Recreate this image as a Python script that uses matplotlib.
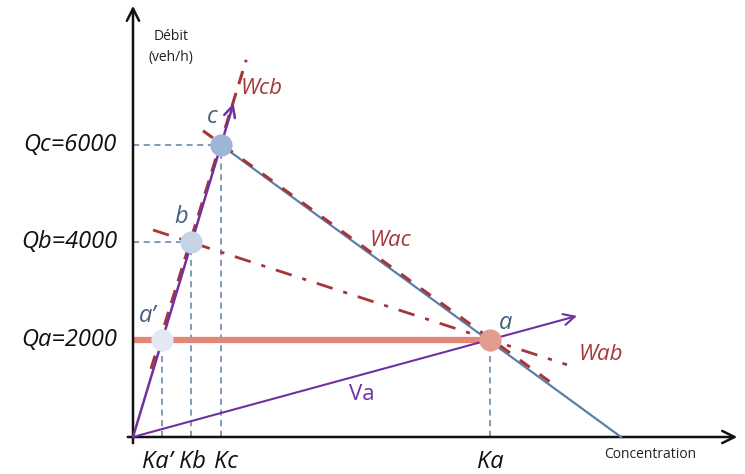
import matplotlib
matplotlib.use("Agg")
import matplotlib.pyplot as plt
import numpy as np

# Fundamental diagram (triangular): flow vs concentration
k_points = {"a'": 29, "b": 58, "c": 88, "a": 357}   # concentration
q_points = {"a'": 2000, "b": 4000, "c": 6000, "a": 2000}  # flow (veh/h)
k_jam = 488
q_ticks = [2000, 4000, 6000]
q_tick_labels = ["Qa=2000", "Qb=4000", "Qc=6000"]
k_tick_names = ["a'", "b", "c", "a"]
k_tick_labels = ["Ka\u2019", "Kb", "Kc", "Ka"]

PURPLE = "#7030A0"
DARKRED = "#A5373A"
BLUE = "#5A80A8"
ORANGE = "#E38676"
LABEL = "#44607F"
FONT = "Open Sans"

fig = plt.figure(figsize=(7.45, 4.74), dpi=100)
ax = fig.add_axes([0, 0, 1, 1])
ax.set_xlim(-133, 612)
ax.set_ylim(-37 * 6000 / 292, 437 * 6000 / 292)
ax.axis("off")
ys = 6000 / 292  # flow units per pixel

# axes with arrows
ax.annotate("", xy=(607, 0), xytext=(-8, 0),
            arrowprops=dict(arrowstyle="->", color="#111111", lw=1.8,
                            mutation_scale=22))
ax.annotate("", xy=(0, 434 * ys), xytext=(0, -9 * ys),
            arrowprops=dict(arrowstyle="->", color="#111111", lw=1.8,
                            mutation_scale=22))

kc, qc = k_points["c"], q_points["c"]
kb, qb = k_points["b"], q_points["b"]
ka, qa = k_points["a"], q_points["a"]
kap, qap = k_points["a'"], q_points["a'"]

# guide lines
for name in ["c", "b"]:
    ax.plot([0, k_points[name]], [q_points[name]] * 2, ls=(0, (4, 3)),
            color=BLUE, lw=1.1, zorder=1)
for name in k_tick_names:
    ax.plot([k_points[name]] * 2, [0, q_points[name]], ls=(0, (4, 3)),
            color=BLUE, lw=1.1, zorder=1)

# horizontal flow line at Qa
ax.plot([0, ka], [qa, qa], color=ORANGE, lw=4.5, zorder=2, solid_capstyle="butt")

# congested branch
ax.plot([kc, k_jam], [qc, 0], color=BLUE, lw=1.6, zorder=3)

# free-flow branch with arrow
vf = qc / kc
q_top = 6860
ax.annotate("", xy=(q_top / vf, q_top), xytext=(0, 0),
            arrowprops=dict(arrowstyle="->", color=PURPLE, lw=1.8,
                            mutation_scale=20, shrinkA=0, shrinkB=0), zorder=4)

# Va line with arrow
va = qa / ka
k_end = 444
ax.annotate("", xy=(k_end, va * k_end), xytext=(0, 0),
            arrowprops=dict(arrowstyle="->", color=PURPLE, lw=1.5,
                            mutation_scale=20, shrinkA=0, shrinkB=0), zorder=4)

# shock waves
w_cb = (qc - qb) / (kc - kb)
kk = np.array([1400, 7750]) / w_cb
ax.plot(kk - 3, kk * w_cb, ls=(0, (4.5, 3)), color=DARKRED, lw=2.2, zorder=3)

w_ac = (qc - qa) / (kc - ka)
kk = np.array([70, 417])
ax.plot(kk, qc + w_ac * (kk - kc) + 25, ls=(0, (4, 4)), color=DARKRED,
        lw=2.2, zorder=3)

w_ab = (qb - qa) / (kb - ka)
kk = np.array([20, 434])
ax.plot(kk, qb + w_ab * (kk - kb), ls=(0, (6, 4, 1.5, 4)), color=DARKRED,
        lw=2.0, zorder=3)

# state points
pt_colors = {"a'": "#E2E9F2", "b": "#C5D3E6", "c": "#9FB5D5", "a": "#E39C90"}
for name in k_tick_names:
    ax.plot(k_points[name], q_points[name], "o", ms=16, color=pt_colors[name],
            mec="none", zorder=6)

# point labels
lab_kw = dict(color=LABEL, fontsize=17, style="italic", family=FONT,
              ha="center", va="center", zorder=7)
ax.text(kc - 9, qc + 28 * ys, "c", **lab_kw)
ax.text(kb - 10, qb + 25 * ys, "b", **lab_kw)
ax.text(kap - 14, qap + 24 * ys, "a\u2019", **lab_kw)
ax.text(ka + 16, qa + 17 * ys, "a", **lab_kw)

# wave labels
w_kw = dict(color=DARKRED, fontsize=16, style="italic", family=FONT,
            ha="center", va="center", zorder=7)
ax.text(129, 349 * ys, "Wcb", **w_kw)
ax.text(257, 197 * ys, "Wac", **w_kw)
ax.text(468, 82 * ys, "Wab", **w_kw)
ax.text(229, 42 * ys, "Va", color=PURPLE, fontsize=16, family=FONT,
        ha="center", va="center", zorder=7)

# tick labels
for q, lab in zip(q_ticks, q_tick_labels):
    ax.text(-16, q, lab, fontsize=17, style="italic", family=FONT,
            ha="right", va="center", color="#111111")
k_label_shift = {"a'": -5, "b": 1, "c": 5, "a": 0}
for name, lab in zip(k_tick_names, k_tick_labels):
    ax.text(k_points[name] + k_label_shift[name], -25 * ys, lab, fontsize=17,
            style="italic", family=FONT, ha="center", va="center",
            color="#111111")

ax.text(517, -18 * ys, "Concentration", fontsize=10, family=FONT,
        ha="center", va="center", color="#222222")
ax.text(38, 390 * ys, "Débit\n(veh/h)", fontsize=10, family=FONT,
        ha="center", va="center", color="#222222", linespacing=1.6)

fig.savefig("out.png", dpi=100, facecolor="white")
